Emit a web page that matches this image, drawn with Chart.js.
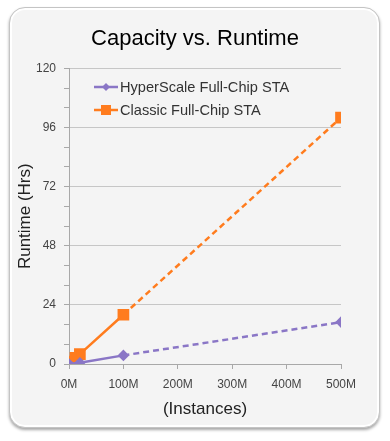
<!DOCTYPE html>
<html>
<head>
<meta charset="utf-8">
<script src="https://cdn.jsdelivr.net/npm/chart.js@4"></script>
<style>
  html, body { margin: 0; padding: 0; background: #fff; }
  #wrap { position: relative; width: 390px; height: 441px; }
  #card {
    position: absolute; left: 9px; top: 7px; width: 369px; height: 419px;
    border-radius: 16px; background: #f4f4f4;
    border: 1px solid #c4c4c4;
    box-shadow: inset 0 0 0 2px #fff, 0 2px 3px rgba(0,0,0,0.35);
  }
  #chart { position: absolute; left: 0; top: 0; }
</style>
</head>
<body>
<div id="wrap">
  <div id="card"></div>
  <canvas id="chart" width="390" height="441"></canvas>
</div>
<script>
// values (x in millions of instances, y in hours)
const hyperX = [0, 20, 100, 500];
const hyperY = [0, 0.5, 3.5, 17];
const classicX = [0, 5, 12, 20, 100, 500];
const classicY = [0, 1, 2.5, 4, 20, 100];
const seriesNames = ['HyperScale Full-Chip STA', 'Classic Full-Chip STA'];
const xTicks = [0, 100, 200, 300, 400, 500];
const yMax = 120;

const purple = '#8a76c6';
const orange = '#ff7c1e';
const font = '"Liberation Sans", Arial, sans-serif';

function toPoints(xs, ys) {
    return xs.map((x, i) => ({ x: x, y: ys[i] }));
}

// dashed after the last measured point (100M)
const dashAfter100 = {
    borderDash: ctx => ctx.p0.parsed.x >= 100 ? [6, 4] : undefined
};

// legend drawn like the office one: short line with the marker in the middle
const lineLegend = {
    id: 'lineLegend',
    afterDraw(chart) {
        const ctx = chart.ctx;
        ctx.save();
        chart.data.datasets.forEach((ds, i) => {
            const y = 87 + i * 23;
            ctx.strokeStyle = ds.borderColor;
            ctx.lineWidth = 2.5;
            ctx.beginPath();
            ctx.moveTo(94, y);
            ctx.lineTo(118, y);
            ctx.stroke();
            ctx.fillStyle = ds.borderColor;
            ctx.beginPath();
            if (ds.pointStyle === 'rectRot') {
                ctx.moveTo(106, y - 4); ctx.lineTo(110, y); ctx.lineTo(106, y + 4); ctx.lineTo(102, y);
            } else {
                ctx.rect(101, y - 5, 10, 10);
            }
            ctx.fill();
            ctx.fillStyle = '#333';
            ctx.font = '14.6px ' + font;
            ctx.textBaseline = 'middle';
            ctx.fillText(ds.label, 120, y + 1);
        });
        ctx.restore();
    }
};

new Chart(document.getElementById('chart'), {
    type: 'line',
    data: {
        datasets: [{
            label: seriesNames[0],
            data: toPoints(hyperX, hyperY),
            borderColor: purple,
            backgroundColor: purple,
            borderWidth: 2.5,
            pointStyle: 'rectRot',
            pointRadius: 4,
            segment: dashAfter100
        }, {
            label: seriesNames[1],
            data: toPoints(classicX, classicY),
            borderColor: orange,
            backgroundColor: orange,
            borderWidth: 2.5,
            pointStyle: 'rect',
            pointRadius: 6.5,
            segment: dashAfter100
        }]
    },
    options: {
        responsive: false,
        animation: false,
        layout: { padding: 0 },
        plugins: {
            legend: { display: false },
            tooltip: { enabled: false },
            title: {
                display: true,
                text: 'Capacity vs. Runtime',
                color: '#000',
                font: { family: font, size: 22, weight: 'normal' },
                padding: { top: 26, bottom: 16 }
            }
        },
        scales: {
            x: {
                type: 'linear',
                min: 0,
                max: 500,
                afterBuildTicks: scale => { scale.ticks = xTicks.map(v => ({ value: v })); },
                afterFit: scale => { scale.height = 77; },
                border: { color: '#a8a8a8', width: 1 },
                grid: { drawOnChartArea: false, tickLength: 5, tickColor: '#a8a8a8' },
                ticks: {
                    padding: 8,
                    color: '#444',
                    font: { family: font, size: 12 },
                    maxRotation: 0,
                    callback: v => v + 'M'
                },
                title: {
                    display: true,
                    text: '(Instances)',
                    color: '#222',
                    font: { family: font, size: 17 },
                    padding: { top: 0, bottom: 21 }
                }
            },
            y: {
                min: 0,
                max: yMax,
                afterFit: scale => { scale.width = 69; },
                border: { color: '#a8a8a8', width: 1 },
                grid: {
                    color: c => c.tick && c.tick.value % 24 === 0 ? '#c6c6c6' : 'rgba(0,0,0,0)',
                    tickColor: '#a8a8a8',
                    tickLength: 5,
                    lineWidth: 1
                },
                ticks: {
                    stepSize: 8,
                    padding: 8,
                    color: '#444',
                    font: { family: font, size: 12 },
                    callback: v => v % 24 === 0 ? v : ''
                },
                title: {
                    display: true,
                    text: 'Runtime (Hrs)',
                    color: '#222',
                    font: { family: font, size: 17 },
                    padding: { top: 15, bottom: 0 }
                }
            },
            // empty box on the right so the plot ends at 500M and the title stays centred on the card
            yRight: {
                position: 'right',
                display: true,
                afterFit: scale => { scale.width = 49; },
                border: { display: false },
                grid: { display: false },
                ticks: { display: false }
            }
        }
    },
    plugins: [lineLegend]
});
</script>
</body>
</html>
